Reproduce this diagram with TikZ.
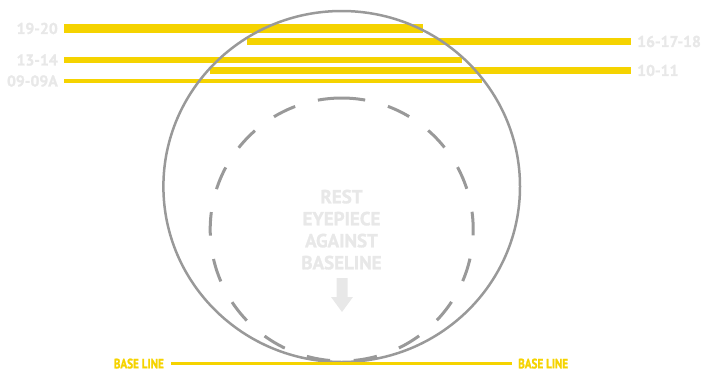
\documentclass[tikz,border=0pt]{standalone}
\usepackage{fontspec}
\setmainfont{PT Sans}[BoldFeatures={FakeBold=1.4}]
\newfontfamily\narrowfont{PT Sans}[FakeStretch=0.82, BoldFeatures={FakeBold=1.4}]
\definecolor{baryellow}{HTML}{F5D300}
\definecolor{ringgray}{HTML}{999999}
\definecolor{notegray}{HTML}{E8E8E8}

\begin{document}
\begin{tikzpicture}[x=1pt,y=-1pt,
  point/.style={coordinate},
  bar/.style={draw=baryellow, line width=#1},
  tag/.style={text=notegray, inner sep=0pt, font=\bfseries\fontsize{15.7}{18}\selectfont},
  note/.style={text=notegray, inner sep=0pt, font=\bfseries\fontsize{19}{22}\selectfont},
  basetag/.style={text=baryellow, inner sep=0pt, font=\narrowfont\bfseries\fontsize{13.6}{16}\selectfont},
  rim/.style={draw=ringgray, line width=2.5pt},
  ring/.style={draw=ringgray, line width=3pt, dash pattern=on 23.6pt off 23.6pt}]
\useasboundingbox (0,0) rectangle (703,370);
% eyepiece bars
\node[point] (b1w) at (64,28.5)  {};
\node[point] (b1e) at (423,28.5)  {};
\node[point] (b2w) at (247,41.5)  {};
\node[point] (b2e) at (631,41.5)  {};
\node[point] (b3w) at (64,60)  {};
\node[point] (b3e) at (462,60)  {};
\node[point] (b4w) at (210,70.5)  {};
\node[point] (b4e) at (631,70.5)  {};
\node[point] (b5w) at (64,81)  {};
\node[point] (b5e) at (482,81)  {};
\draw[bar=9pt]   (b1w) -- (b1e);
\draw[bar=6.7pt] (b2w) -- (b2e);
\draw[bar=6.7pt] (b3w) -- (b3e);
\draw[bar=6.7pt] (b4w) -- (b4e);
\draw[bar=3.4pt] (b5w) -- (b5e);
\node[tag, anchor=east] (t1920) at (58,28.5) {19-20};
\node[tag, anchor=west] (t161718) at (637,41.5) {16-17-18};
\node[tag, anchor=east] (t1314) at (58,60) {13-14};
\node[tag, anchor=west] (t1011) at (637,70.5) {10-11};
\node[tag, anchor=east] (t0909a) at (58,81) {09-09A};
% lens and eyepiece
\draw[rim] (341.7,186.5) ellipse [x radius=178.3, y radius=175.5];
\node[point] (ringtop) at (341.7,98) {};
\draw[ring] (ringtop) arc [start angle=270, end angle=630, radius=131.5];
% instruction
\foreach \word [count=\i] in {REST,EYEPIECE,AGAINST,BASELINE}
  \node[note, anchor=base] (note\i) at (341.5,181.3+22*\i) {\word};
\fill[notegray] (336.5,278) -- (347.5,278) -- (347.5,297) -- (353,297)
  -- (342,312) -- (331,297) -- (336.5,297) -- cycle;
% base line
\node[basetag, anchor=east] (baseleft) at (164,363.6) {BASE LINE};
\node[basetag, anchor=west] (baseright) at (518,363.6) {BASE LINE};
\draw[draw=baryellow, line width=2.4pt] ([xshift=7pt]baseleft.east) -- ([xshift=-6pt]baseright.west);
\end{tikzpicture}
\end{document}
